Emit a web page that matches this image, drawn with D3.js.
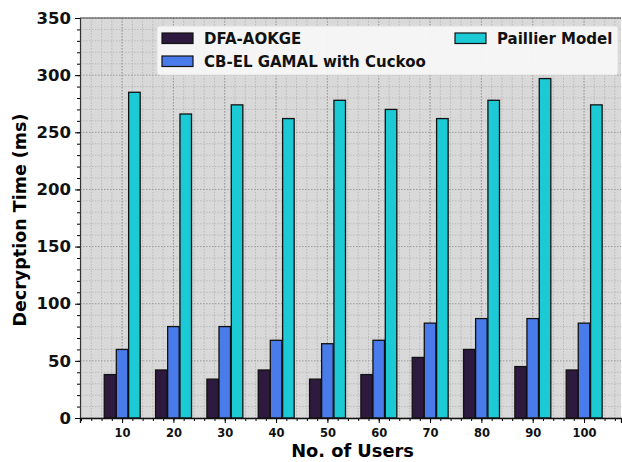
<!DOCTYPE html>
<html>
<head>
<meta charset="utf-8">
<script src="https://cdn.jsdelivr.net/npm/d3@7"></script>
<style>
  body { margin: 0; background: #fff; }
  text { font-family: "DejaVu Sans", sans-serif; font-weight: bold; }
</style>
</head>
<body>
<div id="chart"></div>
<script>
// data
const users = ["10", "20", "30", "40", "50", "60", "70", "80", "90", "100"];
const seriesNames = ["DFA-AOKGE", "CB-EL GAMAL with Cuckoo", "Paillier Model"];
const dfa = [38, 42, 34, 42, 34, 38, 53, 60, 45, 42];
const cbel = [60, 80, 80, 68, 65, 68, 83, 87, 87, 83];
const paillier = [285, 266, 274, 262, 278, 270, 262, 278, 297, 274];
const colors = ["#2e1a3e", "#4a7bea", "#1ccad6"];

const W = 622, H = 462;
const mLeft = 80, mRight = 621, mTop = 18, mBottom = 418;

const svg = d3.select("#chart").append("svg")
    .attr("width", W).attr("height", H);

const x = d3.scaleLinear().domain([-0.82, 9.72]).range([mLeft, mRight]);
const y = d3.scaleLinear().domain([0, 350]).range([mBottom, mTop]);

// background
svg.append("rect")
    .attr("x", mLeft).attr("y", mTop)
    .attr("width", mRight - mLeft).attr("height", mBottom - mTop)
    .attr("fill", "#d9d9d9");

// grid - minor
const xMinor = d3.range(-0.8, 9.71, 0.2);
const yMinor = d3.range(0, 351, 10);
const grid = svg.append("g");
grid.selectAll(".vx").data(xMinor).join("line")
    .attr("x1", d => x(d)).attr("x2", d => x(d))
    .attr("y1", mTop).attr("y2", mBottom)
    .attr("stroke", "#b3b3b3").attr("stroke-width", 0.8)
    .attr("stroke-dasharray", "1.5,1.5");
grid.selectAll(".hy").data(yMinor).join("line")
    .attr("x1", mLeft).attr("x2", mRight)
    .attr("y1", d => y(d)).attr("y2", d => y(d))
    .attr("stroke", d => d % 50 == 0 ? "#9a9a9a" : "#b3b3b3")
    .attr("stroke-width", d => d % 50 == 0 ? 1 : 0.8)
    .attr("stroke-dasharray", "1.5,1.5");
grid.selectAll(".vmaj").data(d3.range(0, 10)).join("line")
    .attr("x1", d => x(d)).attr("x2", d => x(d))
    .attr("y1", mTop).attr("y2", mBottom)
    .attr("stroke", "#9a9a9a").attr("stroke-width", 1)
    .attr("stroke-dasharray", "1.5,1.5");

// bars
const allSeries = [dfa, cbel, paillier];
const offsets = [-0.235, 0, 0.24];
const bw = 0.225;
allSeries.forEach((vals, s) => {
    svg.append("g").selectAll("rect").data(vals).join("rect")
        .attr("x", (d, i) => x(i + offsets[s] - bw / 2))
        .attr("width", x(bw) - x(0))
        .attr("y", d => y(d))
        .attr("height", d => y(0) - y(d))
        .attr("fill", colors[s])
        .attr("stroke", "#111")
        .attr("stroke-width", 1.3);
});

// axes
const yAxis = d3.axisLeft(y).tickValues(d3.range(0, 351, 50)).tickSize(5).tickPadding(4);
const yMinorAxis = d3.axisLeft(y).tickValues(yMinor).tickSize(3).tickFormat("");
const xAxis = d3.axisBottom(x).tickValues(d3.range(0, 10)).tickFormat(i => users[i]).tickSize(5).tickPadding(6);
const xMinorAxis = d3.axisBottom(x).tickValues(xMinor).tickSize(3).tickFormat("");

svg.append("g").attr("transform", `translate(${mLeft},0)`).call(yMinorAxis)
    .call(g => g.select(".domain").remove());
const gy = svg.append("g").attr("transform", `translate(${mLeft},0)`).call(yAxis);
gy.selectAll("text").style("font-size", "16.5px").attr("fill", "#111");
gy.select(".domain").attr("stroke", "#333").attr("stroke-width", 1.2);

svg.append("g").attr("transform", `translate(0,${mBottom})`).call(xMinorAxis)
    .call(g => g.select(".domain").remove());
const gx = svg.append("g").attr("transform", `translate(0,${mBottom})`).call(xAxis);
gx.selectAll("text").style("font-size", "11.5px").attr("fill", "#111");
gx.select(".domain").attr("stroke", "#111").attr("stroke-width", 1.3);

// top spine
svg.append("line").attr("x1", mLeft).attr("x2", mRight)
    .attr("y1", mTop).attr("y2", mTop)
    .attr("stroke", "#444").attr("stroke-width", 1.2);

// axis titles
svg.append("text")
    .attr("transform", `translate(26,${(mTop + mBottom) / 2 + 2}) rotate(-90)`)
    .attr("text-anchor", "middle")
    .style("font-size", "17.5px")
    .text("Decryption Time (ms)");
svg.append("text")
    .attr("x", (mLeft + mRight) / 2 + 2).attr("y", 457)
    .attr("text-anchor", "middle")
    .style("font-size", "17.8px")
    .text("No. of Users");

// legend
const lg = svg.append("g");
lg.append("rect")
    .attr("x", 157).attr("y", 26).attr("width", 461).attr("height", 49)
    .attr("rx", 3)
    .attr("fill", "#f7f7f7").attr("fill-opacity", 0.95)
    .attr("stroke", "#e0e0e0");
const legendPos = [[162, 33], [162, 56], [455, 33]];
seriesNames.forEach((name, i) => {
    const [lx, ly] = legendPos[i];
    lg.append("rect")
        .attr("x", lx).attr("y", ly)
        .attr("width", 31).attr("height", 10.5)
        .attr("fill", colors[i]).attr("stroke", "#111").attr("stroke-width", 1.2);
    lg.append("text")
        .attr("x", lx + 42).attr("y", ly + 11)
        .style("font-size", "15px")
        .attr("fill", "#111")
        .text(name);
});
</script>
</body>
</html>
